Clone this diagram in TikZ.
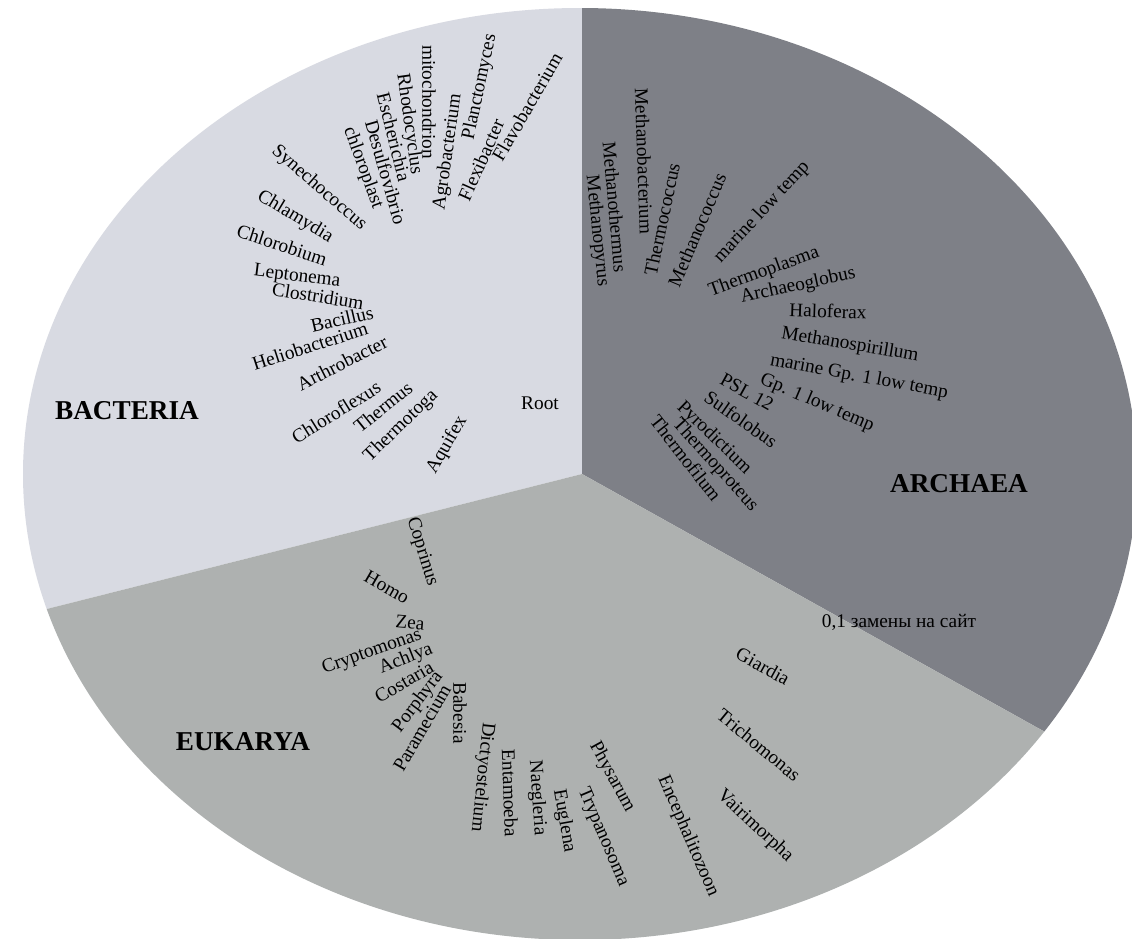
\documentclass[tikz,border=0pt]{standalone}
\usepackage{fontspec}
\setmainfont{Liberation Serif}
\usepackage{tikz}
\usetikzlibrary{positioning}
\definecolor{bactgray}{RGB}{216,218,226}
\definecolor{archgray}{RGB}{126,128,135}
\definecolor{eukgray}{RGB}{174,177,176}

\begin{document}
\begin{tikzpicture}[x=0.02cm,y=-0.02cm,
  taxon/.style={font=\fontsize{11}{12}\selectfont,inner sep=0pt},
  kingdom/.style={font=\fontsize{15.5}{16}\selectfont\bfseries,inner sep=0pt}]
			\useasboundingbox (0,0) rectangle (1132,938);
			\fill[white] (0,0) rectangle (1132,938);
			\coordinate (c) at (582,474);
			\begin{scope}
				\clip (580,474) ellipse (557 and 466);
				\fill[bactgray] (c) -- (582,-100) -- (-100,-100) -- (-100,646) -- cycle;
				\fill[archgray] (c) -- (582,-100) -- (1300,-100) -- (1300,874) -- cycle;
				\fill[eukgray] (c) -- (1300,874) -- (1300,1100) -- (-100,1100) -- (-100,646) -- cycle;
			\end{scope}
			\node[taxon,rotate=-90] (mito) at (429,102) {mitochondrion};
			\node[taxon,rotate=-82] (rhodo) at (409,124) {Rhodocyclus};
			\node[taxon,rotate=-76] (esch) at (394,137) {Escherichia};
			\node[taxon,rotate=-74] (desulfo) at (386,172) {Desulfovibrio};
			\node[taxon,rotate=-70] (chloro) at (363,168) {chloroplast};
			\node[taxon,rotate=-41] (synecho) at (319,188) {Synechococcus};
			\node[taxon,rotate=-31] (chlamy) at (295,217) {Chlamydia};
			\node[taxon,rotate=-18] (chlorob) at (282,245) {Chlorobium};
			\node[taxon,rotate=-7] (lepto) at (297,277) {Leptonema};
			\node[taxon,rotate=-9] (clostri) at (318,296) {Clostridium};
			\node[taxon,rotate=13] (bacil) at (342,319) {Bacillus};
			\node[taxon,rotate=18] (helio) at (310,346) {Heliobacterium};
			\node[taxon,rotate=27] (arthro) at (342,363) {Arthrobacter};
			\node[taxon,rotate=32] (chlorofl) at (336,412) {Chloroflexus};
			\node[taxon,rotate=39] (thermus) at (383,407) {Thermus};
			\node[taxon,rotate=44] (thermotoga) at (401,426) {Thermotoga};
			\node[taxon,rotate=60] (aquifex) at (447,445) {Aquifex};
			\node[taxon] (root) at (540,403) {Root};
			\node[taxon,rotate=82] (agro) at (448,152) {Agrobacterium};
			\node[taxon,rotate=78] (plancto) at (480,87) {Planctomyces};
			\node[taxon,rotate=66] (flexi) at (481,160) {Flexibacter};
			\node[taxon,rotate=60] (flavo) at (527,107) {Flavobacterium};
			\node[taxon,rotate=-88] (mbact) at (644,161) {Methanobacterium};
			\node[taxon,rotate=-85] (mtherm) at (615,207) {Methanothermus};
			\node[taxon,rotate=-84] (mpyrus) at (597,231) {Methanopyrus};
			\node[taxon,rotate=78] (tcoccus) at (662,219) {Thermococcus};
			\node[taxon,rotate=67] (mcoccus) at (697,230) {Methanococcus};
			\node[taxon,rotate=47] (marine) at (762,212) {marine low temp};
			\node[taxon,rotate=20] (tplasma) at (764,272) {Thermoplasma};
			\node[taxon,rotate=12] (archaeo) at (798,286) {Archaeoglobus};
			\node[taxon,rotate=-2] (halo) at (828,311) {Haloferax};
			\node[taxon,rotate=-9.5] (mspiri) at (850,345) {Methanospirillum};
			\node[taxon,rotate=-10.5] (marinegp) at (859,377) {marine Gp. 1 low temp};
			\node[taxon,rotate=-23] (gp) at (817,403) {Gp. 1 low temp};
			\node[taxon,rotate=-29] (psl) at (747,392) {PSL 12};
			\node[taxon,rotate=-35] (sulfo) at (741,419) {Sulfolobus};
			\node[taxon,rotate=-44] (pyro) at (714,438) {Pyrodictium};
			\node[taxon,rotate=-48] (tproteus) at (715,465) {Thermoproteus};
			\node[taxon,rotate=-52] (tfilum) at (686,458) {Thermofilum};
			\node[taxon,rotate=-73] (coprinus) at (422,552) {Coprinus};
			\node[taxon,rotate=-30] (homo) at (387,587) {Homo};
			\node[taxon,rotate=-5] (zea) at (410,623) {Zea};
			\node[taxon,rotate=19.5] (crypto) at (372,652) {Cryptomonas};
			\node[taxon,rotate=21.5] (achlya) at (406,659) {Achlya};
			\node[taxon,rotate=30] (costaria) at (404,682) {Costaria};
			\node[taxon,rotate=53] (porphyra) at (418,702) {Porphyra};
			\node[taxon,rotate=60] (paramecium) at (422,728) {Paramecium};
			\node[taxon,rotate=-90] (babesia) at (460,713) {Babesia};
			\node[taxon,rotate=-96] (dictyo) at (482,777) {Dictyostelium};
			\node[taxon,rotate=-88] (entamoeba) at (510,793) {Entamoeba};
			\node[taxon,rotate=-86] (naegleria) at (537,798) {Naegleria};
			\node[taxon,rotate=-80] (euglena) at (564,821) {Euglena};
			\node[taxon,rotate=-67] (trypano) at (603,837) {Trypanosoma};
			\node[taxon,rotate=-61.5] (physarum) at (612,777) {Physarum};
			\node[taxon,rotate=-66.7] (encephal) at (688,836) {Encephalitozoon};
			\node[taxon,rotate=-43] (vairi) at (755,826) {Vairimorpha};
			\node[taxon,rotate=-39.5] (tricho) at (759,745) {Trichomonas};
			\node[taxon,rotate=-29] (giardia) at (763,666) {Giardia};
			\node[kingdom] (bacteria) at (127,411) {BACTERIA};
			\node[kingdom] (archaea) at (959,484) {ARCHAEA};
			\node[kingdom] (eukarya) at (243,742) {EUKARYA};
			\node[taxon] (scalebar) at (899,622) {0,1 замены на сайт};
		\end{tikzpicture}
\end{document}
